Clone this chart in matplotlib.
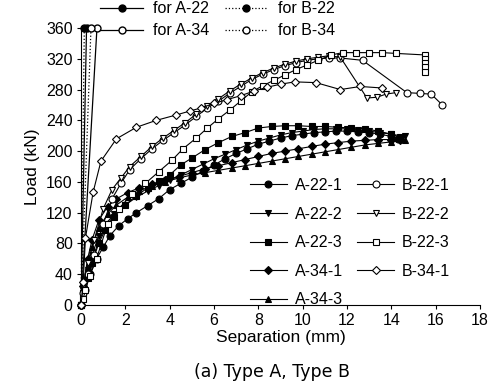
import matplotlib
matplotlib.use("Agg")
import matplotlib.pyplot as plt

plt.rcParams['font.family'] = ['Liberation Sans', 'DejaVu Sans']

# ------------------------------------------------
# data (separation mm, load kN)
# ------------------------------------------------
a221_x = [0, 0.2, 0.4, 0.7, 1.0, 1.3, 1.7, 2.1, 2.5, 3.0, 3.5, 4.0, 4.5, 5.0, 5.5, 6.0, 6.5, 7.0,
          7.5, 8.0, 8.5, 9.0, 9.5, 10.0, 10.5, 11.0, 11.5, 12.0, 12.5, 13.0, 13.5, 14.0, 14.3]
a221_y = [0, 20, 40, 60, 75, 90, 103, 112, 120, 129, 138, 150, 158, 166, 174, 182, 190, 197,
          203, 209, 213, 217, 220, 222, 224, 225, 226, 226, 225, 224, 222, 219, 216]

a222_x = [0, 0.1, 0.3, 0.5, 0.8, 1.1, 1.5, 2.0, 2.5, 3.0, 3.5, 4.0, 4.5, 5.0, 5.5, 6.0, 6.5, 7.0,
          7.5, 8.0, 8.5, 9.0, 9.5, 10.0, 10.5, 11.0, 11.5, 12.0, 12.5, 13.0, 13.5, 14.0, 14.6]
a222_y = [0, 20, 45, 65, 90, 105, 118, 130, 140, 148, 155, 162, 169, 176, 183, 190, 196, 202,
          208, 213, 217, 221, 224, 226, 228, 229, 229, 229, 228, 226, 224, 222, 219]

a223_x = [0, 0.1, 0.3, 0.5, 0.8, 1.1, 1.5, 2.0, 2.5, 3.0, 3.5, 4.0, 4.5, 5.0, 5.6, 6.2, 6.8, 7.4,
          8.0, 8.6, 9.2, 9.8, 10.4, 11.0, 11.6, 12.2, 12.8, 13.4, 14.0, 14.4]
a223_y = [0, 15, 35, 55, 80, 98, 115, 130, 142, 152, 161, 169, 182, 191, 202, 211, 219, 224,
          230, 232, 233, 233, 232, 232, 231, 230, 229, 226, 222, 218]

a341_x = [0, 0.1, 0.3, 0.5, 0.8, 1.2, 1.6, 2.1, 2.6, 3.2, 3.8, 4.4, 5.0, 5.6, 6.2, 6.8, 7.4, 8.0,
          8.6, 9.2, 9.8, 10.4, 11.0, 11.6, 12.2, 12.8, 13.4, 14.0, 14.4]
a341_y = [0, 25, 60, 85, 110, 128, 138, 146, 152, 157, 162, 167, 172, 177, 181, 185, 189, 193,
          197, 200, 203, 206, 209, 211, 213, 214, 215, 215, 214]

a343_x = [0, 0.1, 0.3, 0.5, 0.8, 1.2, 1.6, 2.1, 2.6, 3.2, 3.8, 4.4, 5.0, 5.6, 6.2, 6.8, 7.4, 8.0,
          8.6, 9.2, 9.8, 10.4, 11.0, 11.6, 12.2, 12.8, 13.4, 14.0, 14.6]
a343_y = [0, 20, 50, 75, 100, 118, 130, 140, 148, 155, 160, 165, 169, 172, 175, 178, 181, 184,
          187, 190, 193, 196, 199, 202, 205, 208, 210, 212, 214]

b221_x = [0, 0.1, 0.3, 0.6, 1.0, 1.4, 1.8, 2.2, 2.7, 3.2, 3.7, 4.2, 4.7, 5.2, 5.7, 6.2, 6.7, 7.2,
          7.7, 8.2, 8.7, 9.2, 9.7, 10.2, 10.7, 11.2, 11.7, 12.7, 14.7, 15.3, 15.8, 16.3]
b221_y = [0, 15, 40, 65, 105, 138, 158, 176, 190, 203, 214, 224, 234, 245, 256, 265, 275, 284,
          293, 300, 306, 311, 315, 318, 320, 321, 321, 318, 276, 275, 274, 260]

b222_x = [0, 0.1, 0.3, 0.6, 1.0, 1.4, 1.8, 2.2, 2.7, 3.2, 3.7, 4.2, 4.7, 5.2, 5.7, 6.2, 6.7, 7.2,
          7.7, 8.2, 8.7, 9.2, 9.7, 10.2, 10.7, 11.2, 11.7, 12.9, 13.35, 13.75, 14.2]
b222_y = [0, 25, 55, 85, 125, 150, 165, 180, 193, 206, 217, 227, 237, 248, 259, 268, 278, 287,
          295, 302, 308, 313, 317, 320, 322, 324, 322, 269, 270, 274, 276]

b223_x = [0, 0.1, 0.2, 0.4, 0.7, 1.2, 1.7, 2.3, 2.9, 3.5, 4.1, 4.6, 5.2, 5.7, 6.2, 6.7, 7.2, 7.7,
          8.2, 8.7, 9.2, 9.7, 10.2, 10.7, 11.3, 11.8, 12.4, 13.0, 13.6, 14.2, 15.5, 15.5, 15.5,
          15.5, 15.5]
b223_y = [0, 8, 20, 38, 60, 105, 125, 144, 158, 173, 188, 203, 217, 230, 242, 253, 265, 277,
          285, 292, 299, 306, 312, 318, 325, 328, 328, 328, 328, 327, 325, 320, 314, 309, 303]

b341_x = [0, 0.1, 0.2, 0.55, 0.9, 1.6, 2.5, 3.4, 4.3, 4.9, 5.4, 6.0, 6.6, 7.2, 7.8, 8.4, 9.0,
          9.65, 10.6, 11.7, 12.6, 13.6]
b341_y = [0, 30, 87, 147, 187, 216, 231, 240, 247, 252, 256, 262, 267, 272, 278, 283, 287,
          290, 289, 280, 284, 282]

# stiffness reference lines (from origin up to 360 kN)
ref_x = [0.25, 0.72, 0.15, 0.45]
ref_y = [360, 360, 360, 360]
ref_labels = ["for A-22", "for A-34", "for B-22", "for B-34"]

fig = plt.figure(figsize=(4.91, 3.87), dpi=100)
ax = fig.add_axes([81 / 491, 1 - 305 / 387, 399 / 491, 277 / 387])

ms = 5
series = [
    (a221_x, a221_y, "A-22-1", dict(marker='o', mfc='black')),
    (a222_x, a222_y, "A-22-2", dict(marker='v', mfc='black')),
    (a223_x, a223_y, "A-22-3", dict(marker='s', mfc='black')),
    (a341_x, a341_y, "A-34-1", dict(marker='D', mfc='black', ms=ms - 0.5)),
    (a343_x, a343_y, "A-34-3", dict(marker='^', mfc='black')),
    (b221_x, b221_y, "B-22-1", dict(marker='o', mfc='white')),
    (b222_x, b222_y, "B-22-2", dict(marker='v', mfc='white')),
    (b223_x, b223_y, "B-22-3", dict(marker='s', mfc='white')),
    (b341_x, b341_y, "B-34-1", dict(marker='D', mfc='white', ms=ms - 0.5)),
]

handles = []
for xs, ys, lab, st in series:
    kw = dict(color='black', lw=0.8, mec='black', mew=0.8, ms=ms)
    kw.update(st)
    ln, = ax.plot(xs, ys, label=lab, clip_on=False, zorder=3, **kw)
    handles.append(ln)

# order: A-22 (solid, filled), A-34 (solid, open), B-22 (dotted, filled), B-34 (dotted, open)
ref_styles = [('-', 'black'), ('-', 'white'), (':', 'black'), (':', 'white')]
ref_handles = []
for rx, ry, lab, (ls, fc) in zip(ref_x, ref_y, ref_labels, ref_styles):
    ln, = ax.plot([0, rx], [0, ry], ls=ls, color='black', lw=0.9, marker='o',
                  markevery=[1], mfc=fc, mec='black', ms=5, clip_on=False, label=lab, zorder=2)
    ref_handles.append(ln)

ax.set_xlim(0, 18)
ax.set_ylim(0, 360)
ax.set_xticks(range(0, 19, 2))
ax.set_yticks(range(0, 361, 40))
ax.spines['top'].set_visible(False)
ax.spines['right'].set_visible(False)
ax.tick_params(labelsize=11.5, length=3, width=0.8, pad=3)
ax.set_xlabel("Separation (mm)", fontsize=12.5, labelpad=1)
ax.set_ylabel("Load (kN)", fontsize=12.5, labelpad=4)

# bottom legend (specimens)
fig.legend(handles=handles, loc='upper left', bbox_to_anchor=(250 / 491, 1 - 178 / 387),
           ncol=2, frameon=False, fontsize=11.5, handlelength=2.3, handletextpad=0.5,
           columnspacing=0.9, labelspacing=0.85, borderpad=0, borderaxespad=0)

# top legend (reference lines)
fig.legend(handles=ref_handles, loc='upper left', bbox_to_anchor=(100 / 491, 0.997),
           ncol=2, frameon=False, fontsize=11.5, handlelength=2.7, handletextpad=0.6,
           columnspacing=1.0, labelspacing=0.45, borderpad=0, borderaxespad=0)

fig.text(272 / 491, 1 - 372 / 387, "(a) Type A, Type B", ha='center', va='center',
         fontsize=12.5, family=['Liberation Sans Narrow', 'DejaVu Sans'])

fig.savefig("out.png", dpi=100)
